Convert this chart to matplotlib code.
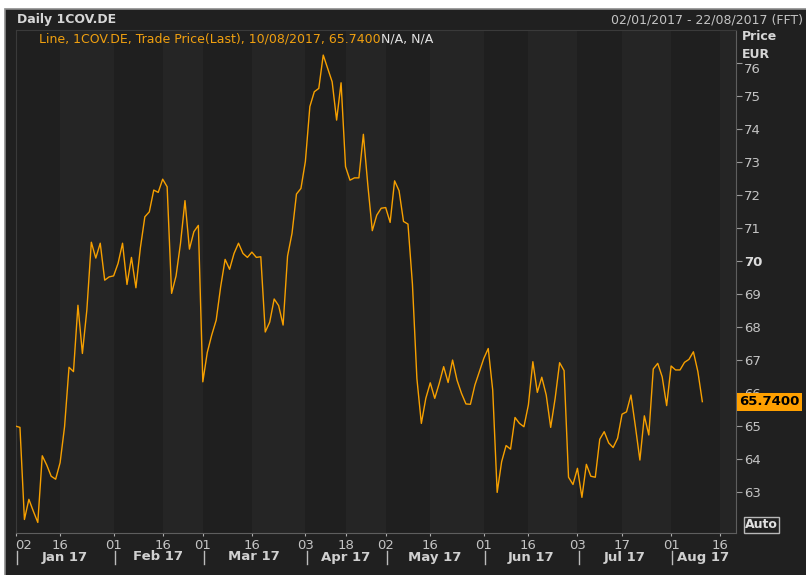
import matplotlib
matplotlib.use("Agg")
import matplotlib.pyplot as plt
import matplotlib.transforms as mtransforms
from matplotlib.patches import Rectangle
import pandas as pd

# Xetra trading days shown on the axis (weekends and exchange holidays skipped)
holidays = ["2017-04-14", "2017-04-17", "2017-05-01", "2017-06-05"]
days = pd.bdate_range("2017-01-02", "2017-08-22")
days = days[~days.isin(pd.to_datetime(holidays))]

# daily last trade price, 02/01/2017 .. 10/08/2017
prices = [
    65.00, 64.96, 62.17, 62.78, 62.42, 62.08, 64.10, 63.82, 63.48, 63.39,
    63.89, 64.98, 66.78, 66.65, 68.66, 67.20, 68.52, 70.57, 70.09, 70.54,
    69.42, 69.52, 69.55, 69.93, 70.54, 69.29, 70.11, 69.19, 70.40, 71.34,
    71.49, 72.15, 72.08, 72.48, 72.25, 69.02, 69.55, 70.54, 71.83, 70.36,
    70.89, 71.08, 66.34, 67.23, 67.76, 68.21, 69.22, 70.05, 69.75, 70.23,
    70.54, 70.23, 70.11, 70.27, 70.11, 70.13, 67.85, 68.15, 68.85, 68.65,
    68.06, 70.15, 70.84, 72.03, 72.20, 73.02, 74.68, 75.13, 75.23, 76.24,
    75.84, 75.43, 74.27, 75.40, 72.86, 72.45, 72.52, 72.52, 73.84, 72.30,
    70.92, 71.39, 71.60, 71.62, 71.17, 72.43, 72.13, 71.20, 71.12, 69.30,
    66.44, 65.08, 65.84, 66.31, 65.84, 66.29, 66.80, 66.32, 67.00, 66.39,
    65.99, 65.67, 65.66, 66.24, 66.65, 67.05, 67.35, 66.09, 62.99, 63.92,
    64.41, 64.30, 65.26, 65.08, 64.98, 65.64, 66.95, 66.02, 66.48, 65.94,
    64.96, 65.84, 66.92, 66.68, 63.45, 63.23, 63.72, 62.84, 63.84, 63.48,
    63.45, 64.60, 64.83, 64.49, 64.35, 64.63, 65.36, 65.43, 65.94, 64.98,
    63.97, 65.31, 64.73, 66.73, 66.90, 66.49, 65.62, 66.82, 66.70, 66.70,
    66.93, 67.02, 67.25, 66.65, 65.74,
]
last_price = 65.74

tick_dates = ["2017-01-02", "2017-01-16", "2017-02-01", "2017-02-16",
              "2017-03-01", "2017-03-16", "2017-04-03", "2017-04-18",
              "2017-05-02", "2017-05-16", "2017-06-01", "2017-06-16",
              "2017-07-03", "2017-07-17", "2017-08-01", "2017-08-16"]
tick_labels = ["02", "16", "01", "16", "01", "16", "03", "18",
               "02", "16", "01", "16", "03", "17", "01", "16"]
month_starts = ["2017-01-02", "2017-02-01", "2017-03-01", "2017-04-03",
                "2017-05-02", "2017-06-01", "2017-07-03", "2017-08-01"]
month_labels = ["Jan 17", "Feb 17", "Mar 17", "Apr 17",
                "May 17", "Jun 17", "Jul 17", "Aug 17"]
y_ticks = [63, 64, 65, 66, 67, 68, 69, 70, 71, 72, 73, 74, 75, 76]

W, H = 806, 575
x_end = 161.55  # right edge of the plot (a little before 22/08)


def fx(px):
    return px / W


def fy(py):
    return 1 - py / H


def idx(d):
    return days.get_loc(pd.Timestamp(d))


tick_idx = [idx(d) for d in tick_dates]
month_idx = [idx(d) for d in month_starts]

fig = plt.figure(figsize=(W / 100, H / 100), dpi=100)
fig.patch.set_facecolor("white")
fig.add_artist(Rectangle((fx(5), -0.01), 1.0, fy(9) + 0.01, transform=fig.transFigure,
                         facecolor="#202020", edgecolor="#8c8c8c", lw=1.2, zorder=0))

ax = fig.add_axes([fx(15.5), fy(533), fx(736) - fx(15.5), fy(30) - fy(533)])
ax.set_facecolor("#222222")

# alternating background bands between the date ticks
edges = tick_idx + [x_end]
for k in range(len(tick_idx)):
    ax.axvspan(edges[k], edges[k + 1], color="#1f1f1f" if k % 2 == 0 else "#252525",
               lw=0, zorder=0)

ax.plot(range(len(prices)), prices, color="#f7a000", lw=1.0, zorder=3)

ax.set_xlim(0, x_end)
ax.set_ylim(61.76, 77.0)

for side in ["left", "top"]:
    ax.spines[side].set_color("#3a3a3a")
for side in ["right", "bottom"]:
    ax.spines[side].set_color("#5e5e5e")

# y axis on the right
ax.yaxis.tick_right()
ax.set_yticks(y_ticks)
ax.set_yticklabels([str(v) for v in y_ticks])
ax.tick_params(axis="y", length=4, color="#9a9a9a", labelcolor="#c4c4c4",
               labelsize=9.5, pad=2)
for lab in ax.get_yticklabels():
    if lab.get_text() == "70":
        lab.set_fontweight("bold")
        lab.set_color("#dcdcdc")
    if lab.get_text() == "76":
        lab.set_va("top")

# x axis: day numbers, then month names
ax.set_xticks(tick_idx)
ax.set_xticklabels(tick_labels)
ax.tick_params(axis="x", length=2.5, color="#b0b0b0", labelcolor="#c4c4c4",
               labelsize=9.5, pad=1.5)
ax.get_xticklabels()[0].set_ha("left")

trans = mtransforms.blended_transform_factory(ax.transData, ax.transAxes)
span = 533 - 30
y_month = (533 - 557) / span
month_ends = month_idx[1:] + [x_end]
for m, lab in enumerate(month_labels):
    ax.text((month_idx[m] + month_ends[m]) / 2, y_month, lab, transform=trans,
            ha="center", va="center", fontsize=9.5, fontweight="bold",
            color="#d0d0d0", clip_on=False)
    # month separator
    ax.plot([month_idx[m] + 0.3] * 2, [(533 - 551) / span, (533 - 564) / span],
            transform=trans, color="#bcbcbc", lw=1.0, clip_on=False)

# last price tag
ptrans = mtransforms.blended_transform_factory(ax.transAxes, ax.transData)
ax.text(1.004, last_price, f"{last_price:.4f}", transform=ptrans, ha="left",
        va="center", fontsize=9.5, fontweight="bold", color="black", clip_on=False,
        zorder=5, bbox=dict(boxstyle="square,pad=0.18", fc="#ffa000", ec="none"))

# header texts
fig.text(fx(17), fy(20), "Daily 1COV.DE", fontsize=9, fontweight="bold",
         color="#d6d6d6", va="center")
fig.text(fx(803), fy(20), "02/01/2017 - 22/08/2017 (FFT)", fontsize=9,
         color="#c4c4c4", va="center", ha="right")
fig.text(fx(742), fy(37), "Price", fontsize=9, fontweight="bold",
         color="#d6d6d6", va="center")
fig.text(fx(742), fy(54), "EUR", fontsize=9, fontweight="bold",
         color="#d6d6d6", va="center")

leg = fig.text(fx(39), fy(39), "Line, 1COV.DE, Trade Price(Last), 10/08/2017, 65.7400",
               fontsize=9, color="#f0a010", va="center")
ax.annotate("N/A, N/A", xy=(1, 0), xycoords=leg, va="bottom", ha="left",
            fontsize=9, color="#e4e4e4", annotation_clip=False)

fig.text(fx(745), fy(525), "Auto", fontsize=9, fontweight="bold", color="#e0e0e0",
         va="center", bbox=dict(boxstyle="square,pad=0.12", fc="none",
                                ec="#b8b8b8", lw=1))

fig.savefig("out.png", dpi=100, facecolor=fig.get_facecolor())
